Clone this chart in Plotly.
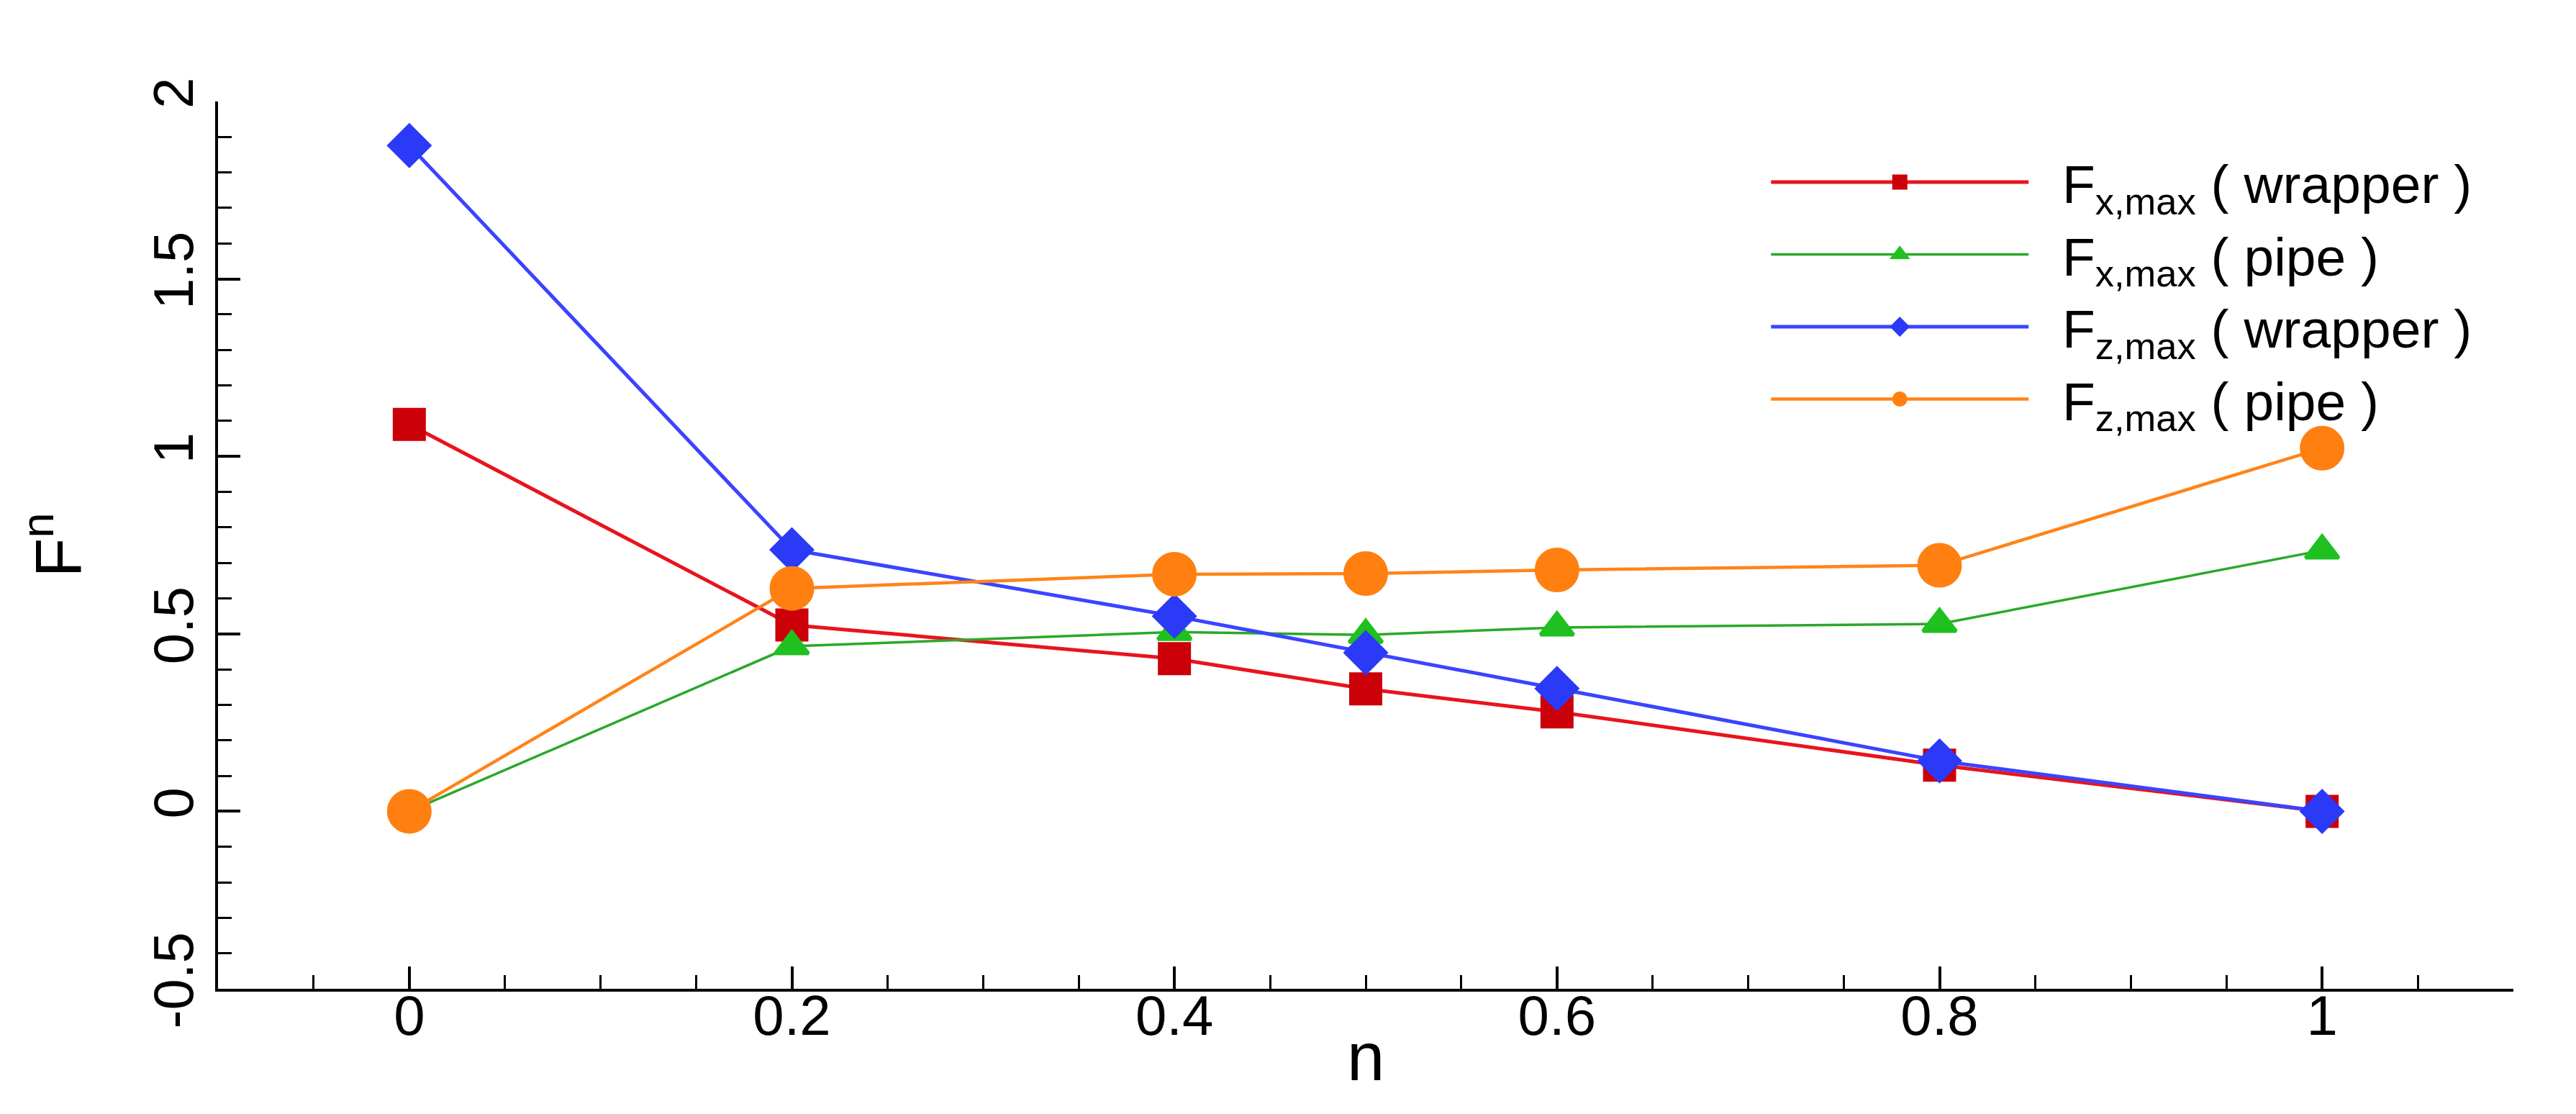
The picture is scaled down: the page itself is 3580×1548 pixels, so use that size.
import plotly.graph_objects as go

# n values and normalised forces
n = [0, 0.2, 0.4, 0.5, 0.6, 0.8, 1]
fx_wrapper = [1.09, 0.525, 0.43, 0.345, 0.28, 0.13, 0.0]
fx_pipe = [0.0, 0.465, 0.505, 0.497, 0.518, 0.528, 0.735]
fz_wrapper = [1.876, 0.737, 0.55, 0.447, 0.346, 0.142, 0.0]
fz_pipe = [0.0, 0.628, 0.668, 0.67, 0.68, 0.693, 1.023]

sp = '\u00a0\u00a0'
names = [sp + 'F<sub>x,max</sub> ( wrapper )',
         sp + 'F<sub>x,max</sub> ( pipe )',
         sp + 'F<sub>z,max</sub> ( wrapper )',
         sp + 'F<sub>z,max</sub> ( pipe )']

x_ticks = [0, 0.2, 0.4, 0.6, 0.8, 1]
x_ticktext = ['0', '0.2', '0.4', '0.6', '0.8', '1']
y_ticks = [-0.5, 0, 0.5, 1, 1.5, 2]
y_ticktext = ['-0.5', '0', '0.5', '1', '1.5', '2']


def mk(symbol, size, color):
    # outline in the same colour so the legend symbol gets a bit bigger too
    return dict(symbol=symbol, size=size, color=color,
                line=dict(color=color, width=5))


fig = go.Figure()
fig.add_trace(go.Scatter(x=n, y=fx_wrapper, name=names[0], mode='lines+markers',
                         line=dict(color='#e8141c', width=5),
                         marker=mk('square', 41, '#cc0008')))
fig.add_trace(go.Scatter(x=n, y=fx_pipe, name=names[1], mode='lines+markers',
                         line=dict(color='#2aa82a', width=3.5),
                         marker=mk('triangle-up', 40, '#1fc01f')))
fig.add_trace(go.Scatter(x=n, y=fz_wrapper, name=names[2], mode='lines+markers',
                         line=dict(color='#3a44ff', width=5),
                         marker=mk('diamond', 43, '#2a3af6')))
fig.add_trace(go.Scatter(x=n, y=fz_pipe, name=names[3], mode='lines+markers',
                         line=dict(color='#ff8418', width=4.5),
                         marker=mk('circle', 57, '#ff8010')))

font = 'Liberation Sans, Arial, sans-serif'

fig.update_layout(
    width=3580, height=1548,
    margin=dict(l=295, r=95, t=133, b=182),
    plot_bgcolor='white', paper_bgcolor='white',
    font=dict(family=font, color='black', size=78),
    legend=dict(x=0.675, y=0.954, xanchor='left', yanchor='top',
                font=dict(size=75), itemwidth=358, bgcolor='rgba(0,0,0,0)',
                tracegroupgap=0),
    xaxis=dict(range=[-0.1, 1.1], showline=True, linewidth=4, linecolor='black',
               showgrid=False, zeroline=False,
               ticks='inside', ticklen=31, tickwidth=4, tickcolor='black',
               tickvals=x_ticks, ticktext=x_ticktext, tickfont=dict(size=78),
               ticklabelstandoff=-34,
               minor=dict(dtick=0.05, tick0=0, ticks='inside', ticklen=19,
                          tickwidth=3, tickcolor='black')),
    yaxis=dict(range=[-0.5, 2], showline=True, linewidth=4, linecolor='black',
               showgrid=False, zeroline=False,
               ticks='inside', ticklen=31, tickwidth=4, tickcolor='black',
               tickvals=y_ticks, ticktext=y_ticktext, tickfont=dict(size=78),
               tickangle=-90,
               minor=dict(dtick=0.1, tick0=0, ticks='inside', ticklen=19,
                          tickwidth=3, tickcolor='black'),
               title=dict(text='F<sup>n</sup>', font=dict(size=90), standoff=55)),
    annotations=[dict(text='n', xref='paper', yref='paper', x=0.5, y=-0.077,
                      xanchor='center', yanchor='middle', showarrow=False,
                      font=dict(size=94))],
)

fig.write_html("out.html")
